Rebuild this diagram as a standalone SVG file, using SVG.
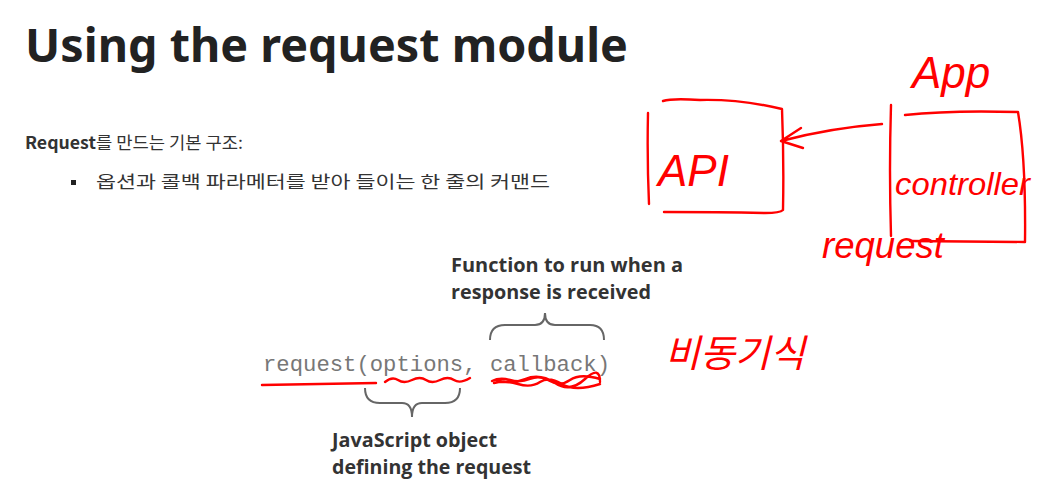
<svg xmlns="http://www.w3.org/2000/svg" width="1051" height="488" viewBox="0 0 1051 488">
<style>
.title{font-family:"Noto Sans","Liberation Sans",sans-serif;font-weight:bold;font-size:46px;fill:#222}
.body{font-family:"Noto Sans CJK KR","Noto Sans",sans-serif;font-size:17px;fill:#333}
.lbl{font-family:"Open Sans","Noto Sans",sans-serif;font-weight:bold;font-size:19px;fill:#333}
.code{font-family:"Liberation Mono",monospace;font-size:22px;fill:#777}
.brace{fill:none;stroke:#666;stroke-width:2}
.ink{fill:none;stroke:#f00;stroke-width:2.4;stroke-linecap:round;stroke-linejoin:round}
.hand{font-family:"Liberation Sans","Noto Sans CJK KR",sans-serif;font-style:italic;fill:#f00}
</style>
<rect width="1051" height="488" fill="#fff"/>
<text class="title" x="25" y="62" textLength="603" lengthAdjust="spacingAndGlyphs">Using the request module</text>
<text class="body" x="25" y="149" textLength="218" lengthAdjust="spacingAndGlyphs"><tspan font-weight="bold">Request</tspan>를 만드는 기본 구조:</text>
<rect x="71" y="180" width="5" height="5" fill="#222"/>
<text class="body" x="96" y="188" textLength="454" lengthAdjust="spacingAndGlyphs">옵션과 콜백 파라메터를 받아 들이는 한 줄의 커맨드</text>

<g id="label-callback">
<text class="lbl" x="451" y="272" textLength="232" lengthAdjust="spacingAndGlyphs">Function to run when a</text>
<text class="lbl" x="451" y="299" textLength="200" lengthAdjust="spacingAndGlyphs">response is received</text>
<path class="brace" d="M490,340 Q490,325 505,325 L535,325 Q545,325 545,313 Q545,325 555,325 L590,325 Q604,325 604,340"/>
</g>
<g id="code">
<text class="code" x="263" y="371" textLength="347" lengthAdjust="spacingAndGlyphs">request(options, callback)</text>
</g>
<g id="label-options">
<path class="brace" d="M365,388 Q365,403 380,403 L402,403 Q412,403 412,417 Q412,403 422,403 L445,403 Q460,403 460,388"/>
<text class="lbl" x="332" y="447" textLength="165" lengthAdjust="spacingAndGlyphs">JavaScript object</text>
<text class="lbl" x="332" y="474" textLength="199" lengthAdjust="spacingAndGlyphs">defining the request</text>
</g>

<g id="annotations">
<path class="ink" d="M262,385 L376,383"/>
<path class="ink" stroke-width="1.6" d="M385,382 Q392,376 398,380 T412,380 T426,380 T440,380 T454,380 T470,378"/>
<path class="ink" stroke-width="1.5" d="M492,381 Q500,377 510,380 T530,379 T550,381 T570,380 T600,379 M494,383 Q505,380 518,384 T540,382 T562,384 T600,384 M496,380 Q510,385 525,379 T555,383 T585,379 T600,382"/>
</g>

<g id="node-api">
<path class="ink" d="M648,113 Q647,160 649,204 M663,101 Q672,98 700,100 Q740,99 782,109 Q784,160 783,210 Q780,213 765,213 Q720,212 664,212"/>
<text class="hand" x="658" y="186" font-size="44">API</text>
</g>
<g id="node-controller">
<path class="ink" d="M891,105 Q889,170 891,236 M905,115 Q950,110 1018,112 Q1026,160 1025,242 Q1000,242 910,241"/>
<text class="hand" x="895" y="195" font-size="32" textLength="135" lengthAdjust="spacingAndGlyphs">controller</text>
<text class="hand" x="912" y="88" font-size="44">App</text>
<text class="hand" x="822" y="258" font-size="36" textLength="122" lengthAdjust="spacingAndGlyphs">request</text>
</g>
<g id="connectors">
<path class="ink" d="M882,124 Q830,128 781,141 M781,141 L801,128 M781,141 L803,148"/>
</g>
<text class="hand" x="665" y="367" font-size="38">비동기식</text>
</svg>
